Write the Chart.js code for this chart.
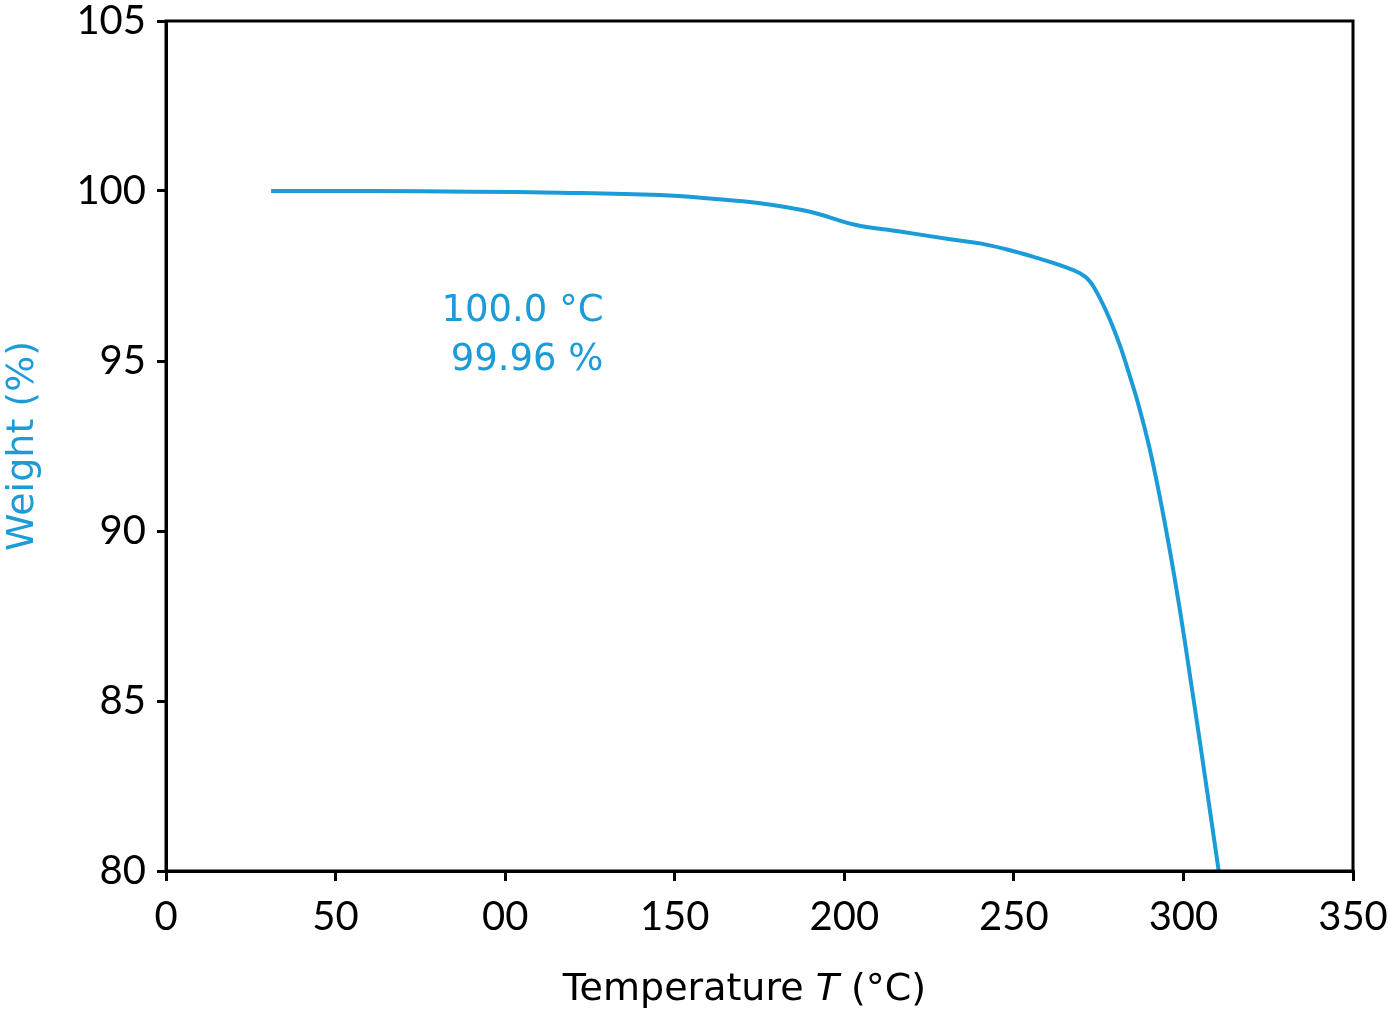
<!DOCTYPE html>
<html>
<head>
<meta charset="utf-8">
<script src="https://cdn.jsdelivr.net/npm/chart.js@4/dist/chart.umd.min.js"></script>
<style>
html,body{margin:0;padding:0;background:#fff;}
#wrap{width:1389px;height:1017px;}
</style>
</head>
<body>
<div id="wrap"><canvas id="c" width="1389" height="1017"></canvas></div>
<script>
const temperature = [31, 60, 90, 116.2, 145.7, 160.4, 175.2, 189.9, 203.5, 216.4, 231.2, 240, 248, 255.6, 263.6, 269.5, 272.5, 275.4, 278.4, 281.3, 284, 287, 290, 293, 296, 299, 302, 305, 308, 310.4];
const weight = [100, 100, 99.98, 99.95, 99.88, 99.78, 99.64, 99.39, 99.0, 98.81, 98.58, 98.46, 98.28, 98.07, 97.82, 97.58, 97.33, 96.84, 96.2, 95.45, 94.62, 93.62, 92.44, 91.02, 89.42, 87.65, 85.7, 83.7, 81.65, 80.0];
const xTickValues = [0, 50, 100, 150, 200, 250, 300, 350];
const xTickLabels = ["0", "50", "00", "150", "200", "250", "300", "350"];
const yTickValues = [80, 85, 90, 95, 100, 105];
const yTickLabels = ["80", "85", "90", "95", "100", "105"];
const xTitleParts = ["Temperature ", "T", " (°C)"];
const yTitle = "Weight (%)";
const annotationLines = ["100.0 °C", "99.96 %"];
const annotationAnchor = [129, 96.46];

const BLUE = '#1b9bd7';
const TICKFONT = "'Lato', 'Noto Sans', sans-serif";
const TEXTFONT = "'DejaVu Sans', sans-serif";

const boxPlugin = {
  id: 'box',
  afterDraw(chart) {
    const ctx = chart.ctx, a = chart.chartArea;
    ctx.save();
    ctx.strokeStyle = '#000';
    ctx.lineWidth = 3;
    ctx.strokeRect(a.left, a.top, a.right - a.left, a.bottom - a.top);
    // annotation
    const xs = chart.scales.x, ys = chart.scales.y;
    const ax = xs.getPixelForValue(annotationAnchor[0]);
    const ay = ys.getPixelForValue(annotationAnchor[1]);
    ctx.fillStyle = BLUE;
    ctx.font = "37px " + TEXTFONT;
    ctx.textAlign = 'right';
    ctx.textBaseline = 'middle';
    annotationLines.forEach((t, i) => ctx.fillText(t, ax, ay + i * 49));
    // x axis title with italic T
    const fonts = ["38px " + TEXTFONT, "italic 38px " + TEXTFONT, "38px " + TEXTFONT];
    let widths = xTitleParts.map((p, i) => { ctx.font = fonts[i]; return ctx.measureText(p).width; });
    const total = widths.reduce((s, w) => s + w, 0);
    let x = (a.left + a.right) / 2 - 15 - total / 2;
    const y = chart.height - 17;
    ctx.fillStyle = '#000';
    ctx.textAlign = 'left';
    ctx.textBaseline = 'alphabetic';
    xTitleParts.forEach((p, i) => { ctx.font = fonts[i]; ctx.fillText(p, x, y); x += widths[i]; });
    ctx.restore();
  }
};

new Chart(document.getElementById('c'), {
  type: 'line',
  data: {
    datasets: [{
      data: temperature.map((t, i) => ({x: t, y: weight[i]})),
      borderColor: BLUE,
      borderWidth: 4,
      pointRadius: 0,
      tension: 0.4,
      fill: false
    }]
  },
  options: {
    responsive: false,
    animation: false,
    devicePixelRatio: 1,
    layout: {padding: {top: 21, right: 36, bottom: 0, left: 0}},
    plugins: {legend: {display: false}, tooltip: {enabled: false}},
    scales: {
      x: {
        type: 'linear', min: 0, max: 350,
        afterBuildTicks(s) { s.ticks = xTickValues.map(v => ({value: v})); },
        afterFit(s) { s.height = 146; s.paddingLeft = 0; s.paddingRight = 0; },
        ticks: {
          callback: (v) => xTickLabels[xTickValues.indexOf(v)],
          color: '#000', font: {family: TICKFONT, size: 40}, padding: 12, maxRotation: 0
        },
        grid: {drawOnChartArea: false, tickLength: 10, lineWidth: 3, color: '#000'},
        border: {display: true, color: '#000', width: 3},
        title: {display: false}
      },
      y: {
        type: 'linear', min: 80, max: 105,
        afterBuildTicks(s) { s.ticks = yTickValues.map(v => ({value: v})); },
        afterFit(s) { s.width = 166; s.paddingTop = 0; s.paddingBottom = 0; },
        ticks: {
          callback: (v) => yTickLabels[yTickValues.indexOf(v)],
          color: '#000', font: {family: TICKFONT, size: 40}, padding: 11
        },
        grid: {drawOnChartArea: false, tickLength: 9, lineWidth: 3, color: '#000'},
        border: {display: true, color: '#000', width: 3},
        title: {display: true, text: yTitle, color: BLUE, font: {family: TEXTFONT, size: 38, lineHeight: 1.2}, padding: 0}
      }
    }
  },
  plugins: [boxPlugin]
});
</script>
</body>
</html>
